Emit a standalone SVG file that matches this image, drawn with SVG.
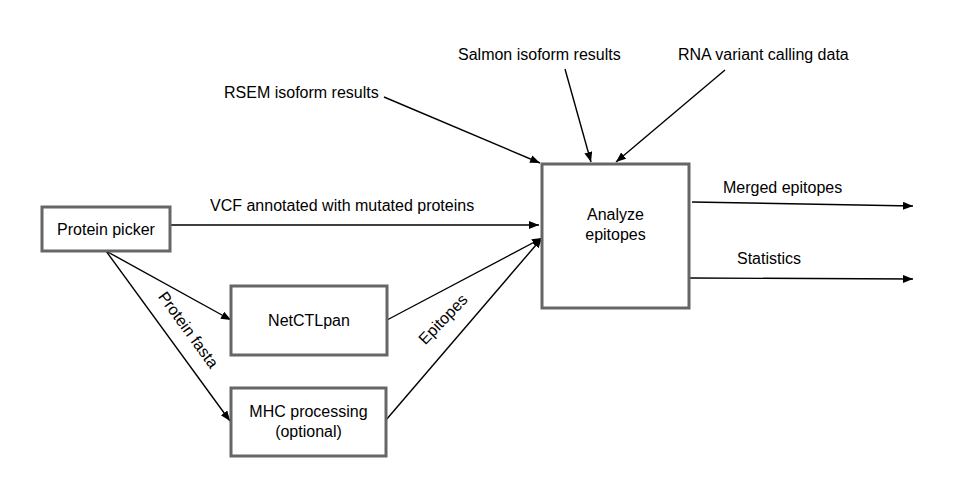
<svg xmlns="http://www.w3.org/2000/svg" width="976" height="478" viewBox="0 0 976 478">
<defs>
<marker id="ah" markerUnits="userSpaceOnUse" markerWidth="12" markerHeight="10" refX="10" refY="4" orient="auto">
<path d="M0,0 L10,4 L0,8 Z" fill="#000"/>
</marker>
<style>
.box{fill:#fff;stroke:#666;stroke-width:3}
.t{font-family:"Liberation Sans",Arial,sans-serif;font-size:16px;fill:#000}
.c{fill:none;stroke:#000;stroke-width:1.4;marker-end:url(#ah)}
</style>
</defs>
<rect width="976" height="478" fill="#fff"/>
<g id="connectors">
<line class="c" x1="170" y1="225" x2="539" y2="225"/>
<line class="c" x1="106" y1="251" x2="231" y2="320"/>
<line class="c" x1="106" y1="251" x2="230" y2="421"/>
<line class="c" x1="387" y1="320" x2="542" y2="238"/>
<line class="c" x1="386" y1="420" x2="542" y2="238"/>
<line class="c" x1="384" y1="97" x2="540" y2="163"/>
<line class="c" x1="565" y1="69" x2="591" y2="162"/>
<line class="c" x1="725" y1="70" x2="616" y2="162"/>
<line class="c" x1="692" y1="202" x2="913" y2="206"/>
<line class="c" x1="690" y1="278" x2="913" y2="279"/>
<text class="t" x="210" y="211">VCF annotated with mutated proteins</text>
<text class="t" x="184" y="333" text-anchor="middle" transform="rotate(54 184 333)">Protein fasta</text>
<text class="t" x="447" y="323" text-anchor="middle" transform="rotate(-46 447 323)">Epitopes</text>
<text class="t" x="224" y="98">RSEM isoform results</text>
<text class="t" x="458" y="60">Salmon isoform results</text>
<text class="t" x="678" y="60">RNA variant calling data</text>
<text class="t" x="723" y="193">Merged epitopes</text>
<text class="t" x="737" y="264">Statistics</text>
</g>
<g id="protein-picker">
<rect class="box" x="42" y="207" width="128" height="44"/>
<text class="t" x="106" y="235" text-anchor="middle">Protein picker</text>
</g>
<g id="netctlpan">
<rect class="box" x="231" y="286" width="156" height="69"/>
<text class="t" x="309" y="326" text-anchor="middle">NetCTLpan</text>
</g>
<g id="mhc-processing">
<rect class="box" x="231" y="388" width="155" height="68"/>
<text class="t" x="308.5" y="417" text-anchor="middle">MHC processing</text>
<text class="t" x="308.5" y="437" text-anchor="middle">(optional)</text>
</g>
<g id="analyze-epitopes">
<rect class="box" x="542" y="164" width="147" height="144"/>
<text class="t" x="615.5" y="220" text-anchor="middle">Analyze</text>
<text class="t" x="615.5" y="240" text-anchor="middle">epitopes</text>
</g>
</svg>
